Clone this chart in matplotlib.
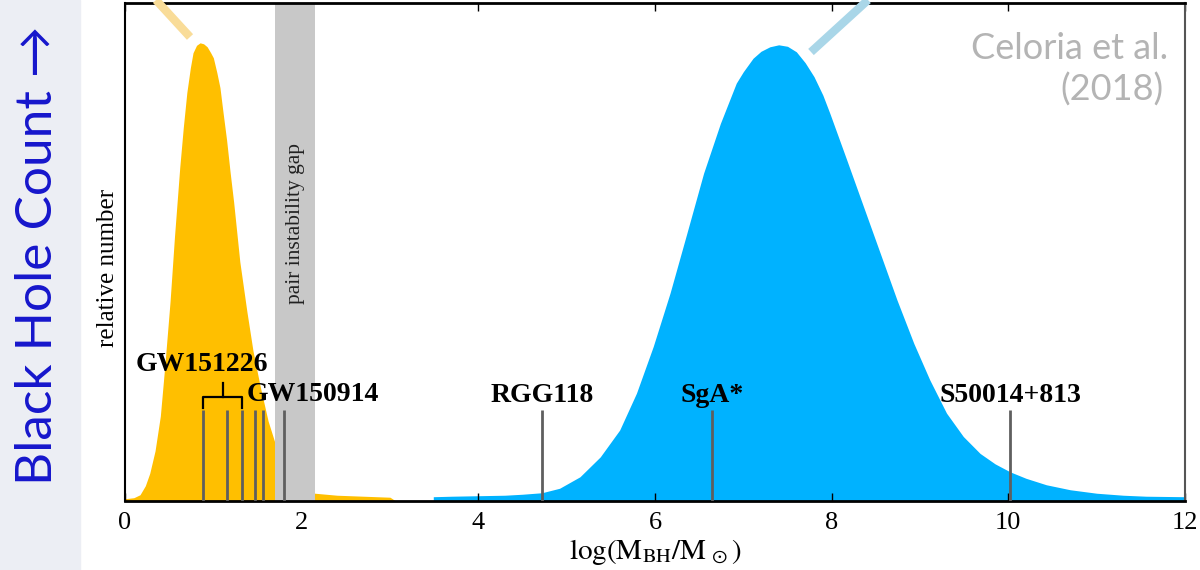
import matplotlib
matplotlib.use("Agg")
import matplotlib.pyplot as plt
from matplotlib.lines import Line2D
from matplotlib.patches import Rectangle

plt.rcParams["font.family"] = "Liberation Serif"
plt.rcParams["mathtext.fontset"] = "stix"

# stellar-mass population
stellar_x = [0.0, 0.10, 0.17, 0.23, 0.28, 0.34, 0.40, 0.45, 0.51, 0.56, 0.62, 0.66,
             0.70, 0.74, 0.77, 0.81, 0.85, 0.89, 0.93, 0.97, 1.00, 1.04, 1.075, 1.11,
             1.15, 1.19, 1.23, 1.30, 1.38, 1.45, 1.53, 1.62, 1.70, 1.80, 1.90, 2.00,
             2.15, 2.40, 2.70, 3.00, 3.06]
stellar_y = [0.004, 0.006, 0.012, 0.030, 0.055, 0.10, 0.17, 0.27, 0.40, 0.53, 0.67, 0.75,
             0.82, 0.87, 0.90, 0.915, 0.92, 0.918, 0.912, 0.90, 0.89, 0.86, 0.83, 0.78,
             0.725, 0.66, 0.60, 0.48, 0.38, 0.30, 0.23, 0.16, 0.115, 0.07, 0.04, 0.025,
             0.015, 0.011, 0.009, 0.007, 0.0]

# supermassive population
smbh_x = [3.49, 3.7, 4.0, 4.3, 4.5, 4.72, 4.92, 5.15, 5.38, 5.60, 5.79, 5.98, 6.17,
          6.36, 6.55, 6.74, 6.92, 7.0, 7.11, 7.2, 7.3, 7.4, 7.5, 7.6, 7.7, 7.8, 7.9,
          7.98, 8.17, 8.36, 8.55, 8.74, 8.93, 9.11, 9.30, 9.49, 9.68, 9.85, 10.02,
          10.2, 10.43, 10.7, 11.0, 11.3, 11.56, 12.0]
smbh_y = [0.008, 0.009, 0.010, 0.011, 0.013, 0.016, 0.025, 0.048, 0.088, 0.142, 0.216,
          0.31, 0.417, 0.537, 0.658, 0.758, 0.839, 0.862, 0.889, 0.903, 0.912, 0.916,
          0.913, 0.902, 0.880, 0.852, 0.815, 0.778, 0.685, 0.591, 0.497, 0.403, 0.316,
          0.243, 0.176, 0.129, 0.095, 0.074, 0.058, 0.045, 0.032, 0.022, 0.015, 0.011,
          0.009, 0.008]

gap = [1.70, 2.15]
gw_x = [0.886, 1.16, 1.33, 1.475, 1.565, 1.80]
gw151226_x = [0.886, 1.33]
events = ["RGG118", "SgA*", "S50014+813"]
events_x = [4.72, 6.65, 10.02]
xticks = [0, 2, 4, 6, 8, 10, 12]

fig = plt.figure(figsize=(12, 5.7), dpi=100)
fig.patches.append(Rectangle((0, 0), 80 / 1200, 1, transform=fig.transFigure,
                             color="#eceef4", zorder=0))
fig.text(38 / 1200, 1 - 255 / 570, "Black Hole Count \u2192", rotation=90,
         ha="center", va="center", color="#1616cc", fontsize=37,
         family=["Lato", "DejaVu Sans"])

ax = fig.add_axes([125 / 1200, 1 - 500.7 / 570, 1060 / 1200, 497.7 / 570])
ax.fill_between(stellar_x, stellar_y, color="#ffbf00", lw=0, zorder=1)
ax.fill_between(smbh_x, smbh_y, color="#00b2ff", lw=0, zorder=1)
ax.axvspan(gap[0], gap[1], color="#c8c8c8", lw=0, zorder=2)
ax.text(sum(gap) / 2, 0.556, "pair instability gap", rotation=90, ha="center",
        va="center", fontsize=15.5, color="#222222", zorder=3)

ax.vlines(gw_x, 0, 0.182, color="#5f5f5f", lw=2, zorder=4)
ax.vlines(events_x, 0, 0.182, color="#5f5f5f", lw=2, zorder=4)

# bracket grouping the GW151226 lines
bx0, bx1 = gw151226_x
ax.plot([bx0, bx0, bx1, bx1], [0.187, 0.209, 0.209, 0.187], color="black", lw=1.6, zorder=4)
ax.plot([(bx0 + bx1) / 2] * 2, [0.209, 0.236], color="black", lw=1.6, zorder=4)

bold = dict(fontsize=20, fontweight="bold", va="baseline", zorder=5)
ax.text(0.875, 0.26, "GW151226", ha="center", **bold)
ax.text(1.377, 0.20, "GW150914", ha="left", **bold)
for name, x in zip(events, events_x):
    ax.text(x, 0.199, name, ha="center", **bold)

sans = dict(ha="right", va="baseline", color="#b4b4b4", fontsize=26,
            family=["Lato", "DejaVu Sans"], transform=fig.transFigure)
fig.text(1168 / 1200, 1 - 59 / 570, "Celoria et al.", **sans)
fig.text(1164 / 1200, 1 - 101 / 570, "(2018)", **sans)

ax.set_xlim(0, 12)
ax.set_ylim(0, 1)
ax.set_xticks(xticks)
ax.set_yticks([])
ax.tick_params(axis="x", direction="in", top=True, length=6, width=1, labelsize=19, pad=8)
fig.text(107.5 / 1200, 1 - 268 / 570, "relative number", rotation=90, ha="center",
         va="center", fontsize=18)
ax.set_xlabel(r"$\log(\mathrm{M}_{\mathrm{BH}}/\mathrm{M}_{\,\odot})$", fontsize=21, labelpad=2)
ax.spines["bottom"].set_linewidth(2)
ax.spines["top"].set_linewidth(2)
ax.spines["left"].set_linewidth(1.5)
ax.spines["right"].set_linewidth(1.5)
ax.spines["right"].set_color("#555555")

# pale pointer strokes above the two peaks
fig.add_artist(Line2D([156 / 1200, 190 / 1200], [1, 1 - 37 / 570], transform=fig.transFigure,
                      color="#f9dc98", lw=6, solid_capstyle="butt"))
fig.add_artist(Line2D([868 / 1200, 811 / 1200], [1, 1 - 52 / 570], transform=fig.transFigure,
                      color="#a9d6e8", lw=6, solid_capstyle="butt"))

fig.savefig("out.png", dpi=100)
